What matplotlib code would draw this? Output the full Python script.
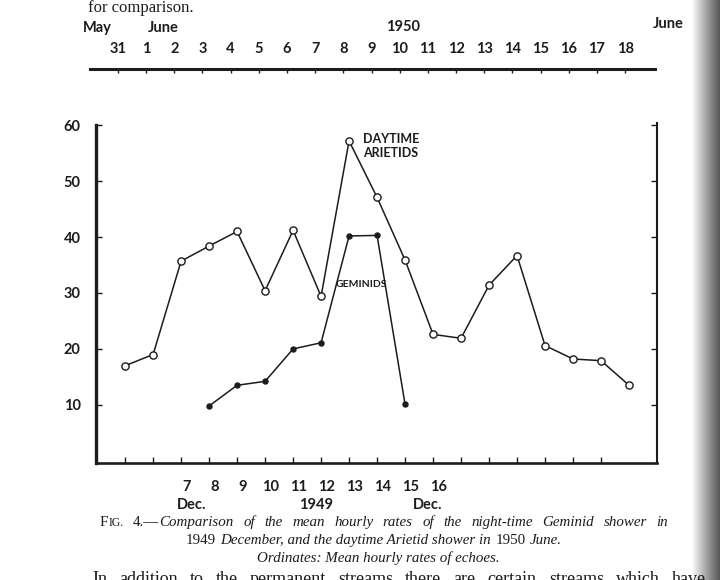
import numpy as np
import matplotlib.pyplot as plt
from matplotlib.transforms import blended_transform_factory

# June 1950 (Daytime Arietids), one point per day from May 31 to June 18
june_days = ['31', '1', '2', '3', '4', '5', '6', '7', '8', '9', '10',
             '11', '12', '13', '14', '15', '16', '17', '18']
arietid_rates = [17.0, 19.0, 35.7, 38.4, 41.0, 30.4, 41.2, 29.4, 57.2, 47.1,
                 35.9, 22.6, 21.9, 31.4, 36.7, 20.6, 18.2, 17.9, 13.5]

# December 1949 (Geminids)
dec_days = [7, 8, 9, 10, 11, 12, 13, 14, 15, 16]
geminid_days = [8, 9, 10, 11, 12, 13, 14, 15]
geminid_rates = [9.8, 13.5, 14.2, 20.0, 21.1, 40.2, 40.3, 10.1]
dec_offset = 5          # Dec 8 lies under June 3 on the common scale

y_ticks = [10, 20, 30, 40, 50, 60]

W, H = 720, 580
ink = '#1c1c1c'
sans = ['Lato', 'DejaVu Sans']
serif = ['Liberation Serif', 'DejaVu Serif']


def fx(px):
    return px / W


def fy(py):
    return 1 - py / H


fig = plt.figure(figsize=(7.2, 5.8), dpi=100)
fig.patch.set_facecolor('white')

# ---- main plot ----
ax = fig.add_axes([fx(96), fy(463), fx(657 - 96), (463 - 123) / H])
x_ar = np.arange(len(june_days))
ax.plot(x_ar, arietid_rates, color=ink, lw=1.1, marker='o', ms=5.2,
        mfc='white', mec=ink, mew=1.0, zorder=3)
x_ge = np.array(geminid_days) - dec_offset
ax.plot(x_ge, geminid_rates, color=ink, lw=1.1, marker='o', ms=3.6,
        mfc=ink, mec=ink, zorder=3)

ax.set_xlim(-1.04, 19.0)
ax.set_ylim(-0.4, 60.4)
ax.spines['top'].set_visible(False)
ax.spines['left'].set_linewidth(2.4)
ax.spines['left'].set_bounds(-0.4, 60)
ax.spines['bottom'].set_linewidth(1.9)
ax.spines['right'].set_linewidth(1.5)
for s in ax.spines.values():
    s.set_color(ink)

ax.set_yticks(y_ticks)
ax.set_yticklabels([str(v) for v in y_ticks], fontfamily=sans,
                   fontweight='bold', fontsize=10.5, color=ink)
ax.tick_params(axis='y', direction='in', length=4, width=1, right=True,
               pad=11, colors=ink)
ax.set_xticks(np.arange(18))
ax.tick_params(axis='x', direction='in', length=4, width=1, labelbottom=False,
               colors=ink)

ax.text(9.5, 56.2, 'DAYTIME\nARIETIDS', ha='center', va='center',
        fontfamily=sans, fontweight='bold', fontsize=9, color=ink,
        linespacing=1.2)
ax.text(8.45, 31.6, 'GEMINIDS', ha='center', va='center', fontfamily=sans,
        fontweight='bold', fontsize=7.5, color=ink)

# December labels under the plot
tb = blended_transform_factory(ax.transData, fig.transFigure)
for d in dec_days:
    ax.text(d - dec_offset + 0.18, fy(487), str(d), transform=tb,
            ha='center', va='center', fontfamily=sans, fontweight='bold',
            fontsize=10.5, color=ink)
fig.text(fx(192), fy(505), 'Dec.', ha='center', va='center', fontfamily=sans,
         fontweight='bold', fontsize=10.5, color=ink)
fig.text(fx(316), fy(505), '1949', ha='center', va='center', fontfamily=sans,
         fontweight='bold', fontsize=10.5, color=ink)
fig.text(fx(428), fy(505), 'Dec.', ha='center', va='center', fontfamily=sans,
         fontweight='bold', fontsize=10.5, color=ink)

# ---- June 1950 scale above ----
at = fig.add_axes([fx(90), fy(69), fx(655 - 90), 0.0001])
at.set_xlim(-0.99, 19.06)
at.set_ylim(0, 1)
at.set_yticks([])
for k in ['top', 'left', 'right']:
    at.spines[k].set_visible(False)
at.spines['bottom'].set_linewidth(2.2)
at.spines['bottom'].set_color(ink)
at.set_xticks(x_ar)
at.set_xticklabels(june_days, fontfamily=sans, fontweight='bold',
                   fontsize=10.5, color=ink)
at.tick_params(axis='x', direction='out', length=3, width=1, colors=ink,
               top=False, labeltop=True, labelbottom=False, pad=6)
at.patch.set_visible(False)

fig.text(fx(97), fy(28), 'May', ha='center', va='center', fontfamily=sans,
         fontweight='bold', fontsize=10.5, color=ink)
fig.text(fx(163), fy(28), 'June', ha='center', va='center', fontfamily=sans,
         fontweight='bold', fontsize=10.5, color=ink)
fig.text(fx(403), fy(27), '1950', ha='center', va='center', fontfamily=sans,
         fontweight='bold', fontsize=10.5, color=ink)
fig.text(fx(668), fy(24), 'June', ha='center', va='center', fontfamily=sans,
         fontweight='bold', fontsize=10.5, color=ink)

# ---- page text ----
fig.text(fx(88), fy(8), 'for comparison.', ha='left', va='center',
         fontfamily=serif, fontsize=12, color=ink)

renderer = fig.canvas.get_renderer()
upr = dict(fontfamily=serif, fontsize=10.8, color=ink)
ita = dict(fontfamily=serif, fontsize=10.8, color=ink, style='italic')
sc = dict(fontfamily=serif, fontsize=8.5, color=ink)


def place_words(words, y, x0=None, x1=None, center=None, gap=4.0):
    # words: list of lists of (text, style) pieces; pieces join without gap
    items = []
    for word in words:
        pieces = []
        for txt, kw in word:
            t = fig.text(0, fy(y), txt, va='baseline', ha='left', **kw)
            w = t.get_window_extent(renderer).width
            pieces.append((t, w))
        items.append(pieces)
    widths = [sum(w for _, w in p) for p in items]
    total = sum(widths)
    if x0 is not None and x1 is not None:
        gap = (x1 - x0 - total) / max(len(items) - 1, 1)
        start = x0
    else:
        start = center - (total + gap * (len(items) - 1)) / 2
    x = start
    for pieces, wsum in zip(items, widths):
        xx = x
        for t, w in pieces:
            t.set_x(fx(xx))
            xx += w
        x += wsum + gap


line1 = [[('F', upr), ('IG.', sc)], [('4.—', upr), ('Comparison', ita)]]
line1 += [[(w, ita)] for w in 'of the mean hourly rates of the night-time Geminid shower in'.split()]
place_words(line1, 526, x0=100, x1=668)

line2 = [[('1949', upr)], [('December, and the daytime Arietid shower in', ita)],
         [('1950', upr)], [('June.', ita)]]
place_words(line2, 544, center=374, gap=4.5)

fig.text(fx(378), fy(562), 'Ordinates: Mean hourly rates of echoes.',
         ha='center', va='baseline', **ita)

body = dict(fontfamily=serif, fontsize=13, color=ink)
line4 = [[(w, body)] for w in 'In addition to the permanent streams there are certain streams which have'.split()]
place_words(line4, 584, x0=92, x1=706)

# ---- shadow of the book gutter on the right ----
gut = fig.add_axes([fx(692), 0, fx(28), 1])
gut.axis('off')
shade = np.linspace(1.0, 0.5, 60) ** 1.5
gut.imshow(np.tile(shade, (10, 1)), cmap='gray', vmin=0, vmax=1,
           aspect='auto', extent=[0, 1, 0, 1], interpolation='bilinear')

fig.savefig('out.png', dpi=100, facecolor='white')
